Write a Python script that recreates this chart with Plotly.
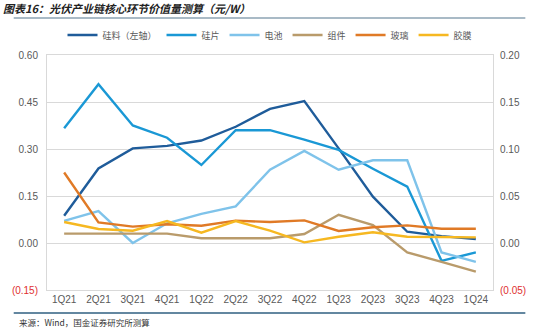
import plotly.graph_objects as go

categories = ["1Q21", "2Q21", "3Q21", "4Q21", "1Q22", "2Q22", "3Q22",
              "4Q22", "1Q23", "2Q23", "3Q23", "4Q23", "1Q24"]

# left axis
polysilicon = [0.087, 0.238, 0.302, 0.310, 0.327, 0.371, 0.428,
               0.453, 0.302, 0.148, 0.036, 0.022, 0.013]
# right axis
wafer = [0.122, 0.169, 0.125, 0.112, 0.083, 0.120, 0.120,
         0.110, 0.099, 0.079, 0.060, -0.019, -0.010]
cell = [0.0235, 0.034, 0.000, 0.021, 0.031, 0.039, 0.078,
        0.098, 0.078, 0.088, 0.088, -0.010, -0.020]
module = [0.010, 0.010, 0.010, 0.010, 0.005, 0.005, 0.005,
          0.0096, 0.030, 0.019, -0.010, -0.020, -0.0305]
glass = [0.075, 0.022, 0.0174, 0.020, 0.0184, 0.0238, 0.0223,
         0.0241, 0.0128, 0.0167, 0.0188, 0.0152, 0.0152]
film = [0.0223, 0.0149, 0.0131, 0.0234, 0.011, 0.0234, 0.0131,
        0.0007, 0.0067, 0.0114, 0.0067, 0.006, 0.006]

left_ticks = [-0.15, 0.0, 0.15, 0.30, 0.45, 0.60]
left_labels = ["<span style='color:#e03030'>(0.15)</span>", "0.00", "0.15", "0.30", "0.45", "0.60"]
right_ticks = [-0.05, 0.0, 0.05, 0.10, 0.15, 0.20]
right_labels = ["<span style='color:#e03030'>(0.05)</span>", "0.00", "0.05", "0.10", "0.15", "0.20"]

names = ["硅料（左轴）", "硅片", "电池", "组件", "玻璃", "胶膜"]
colors = ["#1f5c9a", "#1a98d5", "#7fc3ea", "#b99b6b", "#e07a26", "#f6b821"]

fig = go.Figure()
fig.add_trace(go.Scatter(x=categories, y=polysilicon, name=names[0], mode="lines",
                         line=dict(color=colors[0], width=2.4), xaxis="x", yaxis="y"))
for series, nm, col in zip([wafer, cell, module, glass, film], names[1:], colors[1:]):
    fig.add_trace(go.Scatter(x=categories, y=series, name=nm, mode="lines",
                             line=dict(color=col, width=2.4), xaxis="x", yaxis="y2"))

grid = "#d9d9d9"
tickfont = dict(family="Liberation Sans, Arial", size=10, color="#595959")
n = len(categories)

fig.update_layout(
    width=538, height=329,
    margin=dict(l=35, r=34, t=55, b=39),
    paper_bgcolor="white", plot_bgcolor="white",
    font=dict(family="Noto Sans CJK SC, Liberation Sans", size=10, color="#595959"),
    title=dict(text="<b><i>图表16：光伏产业链核心环节价值量测算（元/W）</i></b>",
               x=3/538, xanchor="left", y=1 - 9.5/329, yanchor="middle",
               font=dict(family="Noto Sans CJK SC", size=11, color="#222222")),
    showlegend=True,
    legend=dict(orientation="h", x=0.5, xanchor="center", y=1.085, yanchor="middle",
                font=dict(family="Noto Sans CJK SC", size=9, color="#595959"),
                itemwidth=30, tracegroupgap=0, bgcolor="rgba(0,0,0,0)"),
    xaxis=dict(type="category", categoryorder="array", categoryarray=categories,
               range=[-0.5, n - 0.5],
               showgrid=False, showline=True, linecolor=grid, linewidth=1, mirror=True,
               ticks="", tickfont=tickfont, zeroline=False),
    # tick marks on the zero line between categories
    xaxis2=dict(type="linear", range=[-0.5, n - 0.5], overlaying="x", anchor="free",
                position=0.2, tick0=0.5, dtick=1,
                showgrid=False, showline=False, showticklabels=False, zeroline=False,
                ticks="outside", ticklen=3, tickcolor=grid),
    yaxis=dict(range=[-0.15, 0.60], tickvals=left_ticks, ticktext=left_labels,
               showgrid=True, gridcolor=grid, gridwidth=1, zeroline=False,
               showline=True, linecolor=grid, mirror=True, ticks="",
               tickfont=tickfont, ticklabelstandoff=6),
    yaxis2=dict(range=[-0.05, 0.20], tickvals=right_ticks, ticktext=right_labels,
                overlaying="y", side="right", anchor="x",
                showgrid=False, zeroline=False, showline=False, ticks="",
                tickfont=tickfont, ticklabelstandoff=6),
)

# title underline and source rule
fig.add_shape(type="line", xref="paper", yref="paper",
              x0=-35/469, x1=(538-35)/469, y0=(290-18)/235, y1=(290-18)/235,
              line=dict(color="#8da3b3", width=1.5))
fig.add_shape(type="line", xref="paper", yref="paper",
              x0=-35/469, x1=(538-35)/469, y0=(290-313)/235, y1=(290-313)/235,
              line=dict(color="#2f5f80", width=1.5))
fig.add_annotation(text="来源：Wind，国金证券研究所测算", xref="paper", yref="paper",
                   x=-32/469, xanchor="left", y=(290-322)/235, yanchor="middle",
                   showarrow=False,
                   font=dict(family="Noto Sans CJK SC", size=8.5, color="#333333"))

fig.write_html("out.html")
